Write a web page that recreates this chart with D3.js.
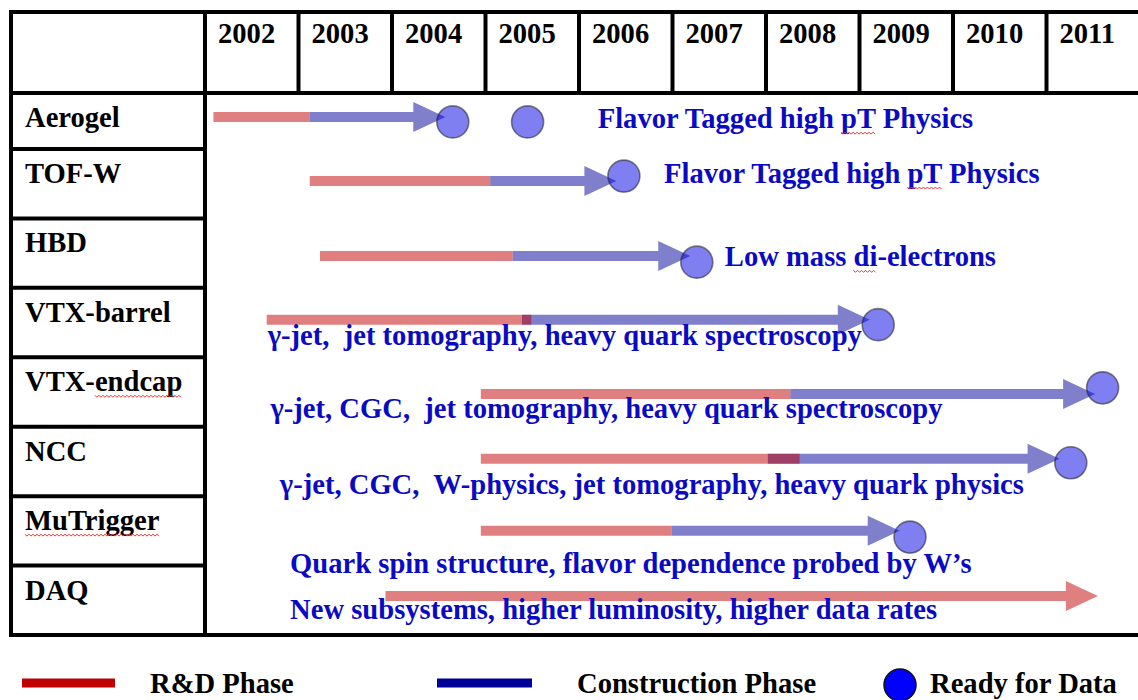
<!DOCTYPE html>
<html><head><meta charset="utf-8">
<script src="https://cdn.jsdelivr.net/npm/d3@7"></script>
<style>
body{margin:0;background:#fff}
svg{display:block}
text{font-family:"Liberation Serif","Times New Roman",serif;font-weight:bold;white-space:pre}
</style>
</head><body>
<svg id="chart" width="1138" height="700"></svg>
<script>
// ---------------- data ----------------
const years = [2002, 2003, 2004, 2005, 2006, 2007, 2008, 2009, 2010, 2011];
const subsystems = ["Aerogel", "TOF-W", "HBD", "VTX-barrel", "VTX-endcap", "NCC", "MuTrigger", "DAQ"];
// R&D phase [start, end] in years
const rdPhase = [
  [2002.09, 2003.12], [2003.12, 2005.05], [2003.23, 2005.29], [2002.66, 2005.49],
  [2004.95, 2008.26], [2004.95, 2008.36], [2004.95, 2006.99], [2003.93, 2011.55]
];
// Construction phase [start, arrow tip] in years
const constructionPhase = [
  [2003.12, 2004.57], [2005.05, 2006.40], [2005.29, 2007.19], [2005.39, 2009.11],
  [2008.26, 2011.52], [2008.02, 2011.14], [2006.99, 2009.43], null
];
// Ready for data markers (years)
const readyForData = [[2004.65, 2005.45], [2006.48], [2007.26], [2009.20], [2011.60], [2011.26], [2009.54], []];
const physicsLabels = [
  "Flavor Tagged high pT Physics",
  "Flavor Tagged high pT Physics",
  "Low mass di-electrons",
  "\u03b3-jet,  jet tomography, heavy quark spectroscopy",
  "\u03b3-jet, CGC,  jet tomography, heavy quark spectroscopy",
  "\u03b3-jet, CGC,  W-physics, jet tomography, heavy quark physics",
  "Quark spin structure, flavor dependence probed by W\u2019s",
  "New subsystems, higher luminosity, higher data rates"
];
// label anchors in data units (year, row units)
const labelYear = [2006.20, 2006.91, 2007.56, 2002.67, 2002.70, 2002.80, 2002.91, 2002.91];
const labelRow  = [0.70, 1.49, 2.69, 3.82, 4.87, 5.97, 7.11, 7.77];
const barRow    = [0.54, 1.46, 2.54, 3.46, 4.53, 5.46, 6.50, 7.44];
const dotRow    = [0.61, 1.39, 2.63, 3.53, 4.44, 5.52, 6.59, null];
// words underlined by the spell checker
const flaggedLabelWords = ["pT", "pT", "di", null, null, null, null, null];
const flaggedNameWords = [null, null, null, null, "endcap", null, "MuTrigger", null];
const legendItems = ["R&D Phase", "Construction Phase", "Ready for Data"];

// ---------------- layout ----------------
const svg = d3.select("#chart");
const W = 1138;
const tableLeft = 11, tableTop = 12, headerBottom = 93, tableBottom = 635, nameRight = 205;
const x = d3.scaleLinear().domain([2002, 2012]).range([205, 1140]);
const yRow = d3.scaleLinear().domain([1, 8]).range([149, 635]);
const rowTop = i => i === 0 ? headerBottom : yRow(i);
const yr = r => yRow(r);

const RED = "#c00000", NAVY = "#000099", DOTBLUE = "#0000e6", TXTBLUE = "#0a0ac4";
const FS = 28.6;

// ----- table lines -----
const g = svg.append("g").attr("stroke", "#000").attr("stroke-width", 4).attr("fill", "none");
[tableTop, headerBottom, tableBottom].forEach(yv =>
  g.append("line").attr("x1", tableLeft - 2).attr("x2", W).attr("y1", yv).attr("y2", yv));
g.append("line").attr("x1", tableLeft).attr("x2", tableLeft).attr("y1", tableTop).attr("y2", tableBottom);
g.append("line").attr("x1", nameRight).attr("x2", nameRight).attr("y1", tableTop).attr("y2", tableBottom);
d3.range(1, subsystems.length).forEach(i =>
  g.append("line").attr("x1", tableLeft).attr("x2", nameRight).attr("y1", rowTop(i)).attr("y2", rowTop(i)));
years.forEach(yv =>
  g.append("line").attr("x1", x(yv)).attr("x2", x(yv)).attr("y1", tableTop).attr("y2", headerBottom));

// ----- header years -----
svg.append("g").selectAll("text").data(years).join("text")
  .attr("x", d => x(d) + 13).attr("y", 43)
  .attr("font-size", FS).attr("fill", "#000").text(d => d);

// squiggle helper (spell-check underline)
function squiggle(textNode, word, color) {
  const s = textNode.textContent;
  const i = s.indexOf(word);
  if (i < 0) return;
  const x0 = textNode.getStartPositionOfChar(i).x;
  const x1 = textNode.getEndPositionOfChar(i + word.length - 1).x;
  const by = +textNode.getAttribute("y") + 4;
  let p = `M${x0},${by}`;
  let k = 0;
  for (let xx = x0 + 2; xx <= x1; xx += 2, k++) p += `L${xx},${by + (k % 2 ? 0 : 2)}`;
  svg.append("path").attr("d", p).attr("fill", "none").attr("stroke", color).attr("stroke-width", 1);
}

// ----- subsystem names -----
const names = svg.append("g").selectAll("text").data(subsystems).join("text")
  .attr("x", 25).attr("y", (d, i) => rowTop(i) + 34)
  .attr("font-size", FS).attr("fill", "#000").text(d => d);
names.each(function (d, i) { if (flaggedNameWords[i]) squiggle(this, flaggedNameWords[i], "#ff2a2a"); });

// ----- bars -----
const barH = 10, headL = 32, headH = 15;
function arrowPath(x0, x1, yc, withHead) {
  if (!withHead) return `M${x0},${yc - barH / 2}H${x1}V${yc + barH / 2}H${x0}Z`;
  const xb = x1 - headL;
  return `M${x0},${yc - barH / 2}H${xb}V${yc - headH}L${x1},${yc}L${xb},${yc + headH}V${yc + barH / 2}H${x0}Z`;
}
const bars = svg.append("g");
subsystems.forEach((s, i) => {
  const yc = yr(barRow[i]);
  const rd = rdPhase[i];
  const con = constructionPhase[i];
  if (con) bars.append("path").attr("d", arrowPath(x(con[0]), x(con[1]), yc, true))
    .attr("fill", NAVY).attr("fill-opacity", 0.5);
  bars.append("path").attr("d", arrowPath(x(rd[0]), x(rd[1]), yc, con === null))
    .attr("fill", RED).attr("fill-opacity", 0.5);
});

// ----- ready-for-data dots -----
const dots = [];
readyForData.forEach((arr, i) => arr.forEach(v => dots.push({ v, r: dotRow[i] })));
svg.append("g").selectAll("circle").data(dots).join("circle")
  .attr("cx", d => x(d.v)).attr("cy", d => yr(d.r)).attr("r", 16)
  .attr("fill", DOTBLUE).attr("fill-opacity", 0.5)
  .attr("stroke", "#222").attr("stroke-opacity", 0.55).attr("stroke-width", 1.6);

// ----- physics labels -----
const labs = svg.append("g").selectAll("text").data(physicsLabels).join("text")
  .attr("x", (d, i) => x(labelYear[i])).attr("y", (d, i) => yr(labelRow[i]))
  .attr("font-size", FS).attr("fill", TXTBLUE).text(d => d);
labs.each(function (d, i) { if (flaggedLabelWords[i]) squiggle(this, flaggedLabelWords[i], "#ff2a2a"); });

// ----- legend -----
const lg = svg.append("g");
lg.append("line").attr("x1", 22).attr("x2", 115).attr("y1", 683).attr("y2", 683)
  .attr("stroke", RED).attr("stroke-width", 9);
lg.append("text").attr("x", 150).attr("y", 693).attr("font-size", FS).attr("fill", "#000").text(legendItems[0]);
lg.append("line").attr("x1", 437).attr("x2", 532).attr("y1", 683).attr("y2", 683)
  .attr("stroke", NAVY).attr("stroke-width", 9);
lg.append("text").attr("x", 577).attr("y", 693).attr("font-size", FS).attr("fill", "#000").text(legendItems[1]);
lg.append("circle").attr("cx", 900).attr("cy", 685).attr("r", 16)
  .attr("fill", "#0000ff").attr("stroke", "#111").attr("stroke-width", 1.5);
lg.append("text").attr("x", 930).attr("y", 693).attr("font-size", FS).attr("fill", "#000").text(legendItems[2]);
</script>
</body></html>
